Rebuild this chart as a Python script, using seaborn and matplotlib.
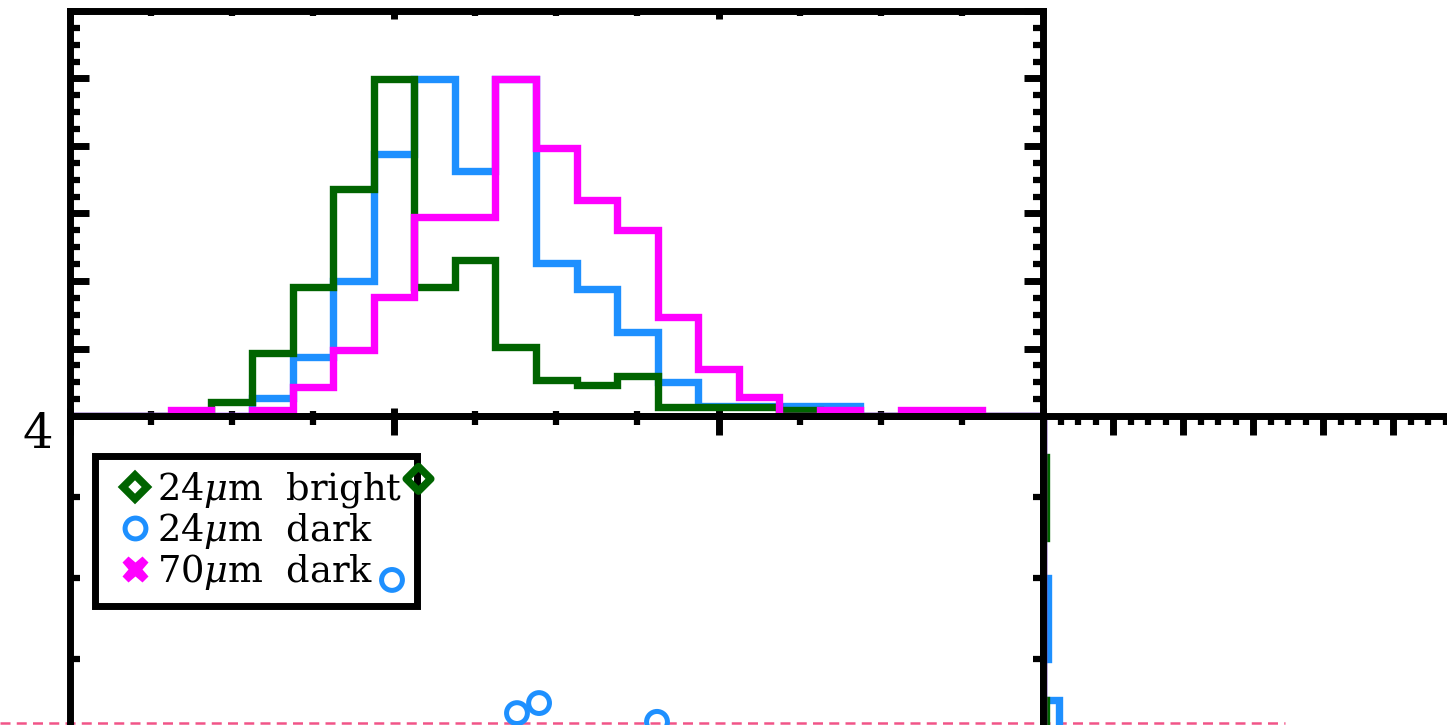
import numpy as np
import pandas as pd
import matplotlib
matplotlib.use("Agg")
import matplotlib.pyplot as plt
from matplotlib.ticker import MultipleLocator
from matplotlib.lines import Line2D
from matplotlib.transforms import ScaledTranslation
import seaborn as sns

sns.set_style("white")
plt.rcParams['font.family'] = ['DejaVu Serif']
plt.rcParams['mathtext.fontset'] = 'dejavuserif'
for key in ["text.color", "axes.labelcolor", "xtick.color", "ytick.color",
            "axes.edgecolor"]:
    plt.rcParams[key] = "black"

# ---------------- data ----------------
series_names = ["24$\\mu$m  bright", "24$\\mu$m  dark", "70$\\mu$m  dark"]
series_colors = ["#006400", "#1e90ff", "#ff00ff"]

# top histogram (normalised to peak), bin centres every 0.125 from 0 to 3
top_centers = [i * 0.125 for i in range(25)]
top_green = [0, 0, 0, 0, 0.042, 0.187, 0.382, 0.673, 1.0, 0.382, 0.462, 0.204,
             0.107, 0.092, 0.119, 0.027, 0.027, 0.027, 0.019, 0, 0, 0, 0, 0, 0]
top_blue = [0, 0, 0, 0, 0, 0.053, 0.175, 0.40, 0.776, 1.0, 0.726, 1.0,
            0.453, 0.376, 0.249, 0.10, 0.03, 0.03, 0.03, 0.03, 0, 0, 0, 0, 0]
top_magenta = [0, 0, 0, 0.018, 0, 0.018, 0.086, 0.196, 0.353, 0.59, 0.59, 1.0,
               0.794, 0.64, 0.551, 0.293, 0.139, 0.056, 0, 0.019, 0, 0.019, 0.019, 0, 0]

# right histogram (horizontal), bin centres in main-panel y units
right_centers = [3.0625, 3.1875, 3.3125, 3.4375, 3.5625, 3.6875, 3.8125, 3.9375]
right_green = [0.009, 0, 0, 0, 0, 0.008, 0.009, 0]
right_blue = [0.046, 0, 0.014, 0.013, 0, 0, 0, 0]
right_magenta = [0, 0, 0, 0, 0, 0, 0, 0]

# scatter points in the main panel
green_x = [1.0755]
green_y = [3.806]
blue_x = [0.9938, 1.379, 1.447, 1.8105]
blue_y = [3.494, 3.083, 3.114, 3.056]

# faint dashed line along the lower edge
cut_level = 3.051
cut_span = [-0.214, 3.746]

main_xlim = (0, 3)
main_ylim = (1, 4)
top_ylim = (0, 1.2)
right_xlim = (0, 1.2)

# ---------------- figure ----------------
W, H = 1447, 725
fig = plt.figure(figsize=(W / 100, H / 100), dpi=100)


def px(l, t, r, b):
    return [l / W, 1 - b / H, (r - l) / W, (b - t) / H]


ax_top = fig.add_axes(px(69.5, 11, 1043, 416))
ax_main = fig.add_axes(px(69.5, 416, 1043, 1388))
ax_right = fig.add_axes(px(1043, 416, 1463, 1388))

LW = 5
for ax in (ax_top, ax_main, ax_right):
    ax.set_facecolor("none")
    for s in ax.spines.values():
        s.set_linewidth(LW)
        s.set_color("black")
        s.set_visible(True)

# ---- top histograms ----
for vals, col in zip([top_blue, top_green, top_magenta],
                     [series_colors[1], series_colors[0], series_colors[2]]):
    df = pd.DataFrame({"center": top_centers, "value": vals})
    sns.histplot(data=df, x="center", weights="value", binwidth=0.125,
                 binrange=(-0.0625, 3.0625), element="step", fill=False,
                 color=col, linewidth=5.3, ax=ax_top, solid_joinstyle="miter")
ax_top.set_xlim(*main_xlim)
ax_top.set_ylim(*top_ylim)
ax_top.xaxis.set_major_locator(MultipleLocator(1))
ax_top.xaxis.set_minor_locator(MultipleLocator(0.25))
ax_top.yaxis.set_major_locator(MultipleLocator(0.2))
ax_top.yaxis.set_minor_locator(MultipleLocator(0.05))
ax_top.tick_params(axis="x", which="major", direction="in", top=True, bottom=True,
                   length=6, width=LW, labelbottom=False, labeltop=False)
ax_top.tick_params(axis="x", which="minor", direction="in", top=True, bottom=True,
                   length=3.5, width=4.5)
ax_top.tick_params(axis="y", which="major", direction="in", left=True, right=True,
                   length=13.7, width=LW, labelleft=False, labelright=False)
ax_top.tick_params(axis="y", which="minor", direction="in", left=True, right=True,
                   length=7.2, width=4.5)
ax_top.set_xlabel("")
ax_top.set_ylabel("")

# ---- main scatter ----
df_blue = pd.DataFrame({"x": blue_x, "y": blue_y})
df_green = pd.DataFrame({"x": green_x, "y": green_y})
sns.scatterplot(data=df_blue, x="x", y="y", marker="o", s=15 ** 2,
                color=series_colors[1], facecolor="none",
                edgecolor=series_colors[1], linewidth=3.6,
                ax=ax_main, zorder=6, legend=False)
sns.scatterplot(data=df_green, x="x", y="y", marker="D", s=12.5 ** 2,
                color=series_colors[0], facecolor="none",
                edgecolor=series_colors[0], linewidth=5.4,
                ax=ax_main, zorder=6, legend=False)
ax_main.plot(cut_span, [cut_level, cut_level], color="#ee2a6a", lw=1.8,
             ls=(0, (4, 2.5)), clip_on=False, alpha=0.8)
ax_main.set_xlim(*main_xlim)
ax_main.set_ylim(*main_ylim)
ax_main.set_xlabel("")
ax_main.set_ylabel("")
ax_main.xaxis.set_major_locator(MultipleLocator(1))
ax_main.xaxis.set_minor_locator(MultipleLocator(0.25))
ax_main.yaxis.set_major_locator(MultipleLocator(1))
ax_main.yaxis.set_minor_locator(MultipleLocator(0.25))
ax_main.tick_params(axis="x", which="major", direction="in", top=True, bottom=True,
                    length=13.7, width=LW, labeltop=False, labelsize=34.5)
ax_main.tick_params(axis="x", which="minor", direction="in", top=True, bottom=True,
                    length=6.5, width=4.5)
ax_main.tick_params(axis="y", which="major", direction="in", left=True, right=True,
                    length=13.7, width=LW, labelsize=34.5, pad=12)
ax_main.tick_params(axis="y", which="minor", direction="in", left=True, right=True,
                    length=7.2, width=4.5)
fig.canvas.draw()
shift_up = ScaledTranslation(0, 5 / 100, fig.dpi_scale_trans)
for lab in ax_main.get_yticklabels():
    lab.set_verticalalignment("top")
    lab.set_transform(lab.get_transform() + shift_up)

handles = [
    Line2D([], [], ls="none", marker="D", ms=12.5, mfc="none",
           mec=series_colors[0], mew=5.4),
    Line2D([], [], ls="none", marker="o", ms=15, mfc="none",
           mec=series_colors[1], mew=3.6),
    Line2D([], [], ls="none", marker="X", ms=19, mfc=series_colors[2],
           mec="none"),
]
leg = ax_main.legend(handles, series_names, loc="upper left",
                     bbox_to_anchor=((94.5 - 69.5) / 973.5, 1 - 40.5 / 972),
                     borderaxespad=0, frameon=True, fancybox=False,
                     edgecolor="black", facecolor="white", framealpha=1,
                     fontsize=26.5, handlelength=1.45, handletextpad=-0.12,
                     borderpad=0.38, labelspacing=0.02)
leg.get_frame().set_linewidth(LW)
leg.set_zorder(3)

# ---- right histograms ----
for vals, col in zip([right_blue, right_green, right_magenta],
                     [series_colors[1], series_colors[0], series_colors[2]]):
    df = pd.DataFrame({"center": right_centers, "value": vals})
    sns.histplot(data=df, y="center", weights="value", binwidth=0.125,
                 binrange=(3.0, 4.0), element="step", fill=False, color=col,
                 linewidth=5.3, ax=ax_right, solid_joinstyle="miter")
ax_right.set_ylim(*main_ylim)
ax_right.set_xlim(*right_xlim)
ax_right.xaxis.set_major_locator(MultipleLocator(0.2))
ax_right.xaxis.set_minor_locator(MultipleLocator(0.05))
ax_right.tick_params(axis="x", which="major", direction="in", top=True, bottom=True,
                     length=13.7, width=LW, labelbottom=False, labeltop=False)
ax_right.tick_params(axis="x", which="minor", direction="in", top=True, bottom=True,
                     length=6.5, width=4.5)
ax_right.tick_params(axis="y", which="both", left=False, right=False,
                     labelleft=False, labelright=False)
ax_right.set_xlabel("")
ax_right.set_ylabel("")

fig.savefig("out.png", dpi=100)
